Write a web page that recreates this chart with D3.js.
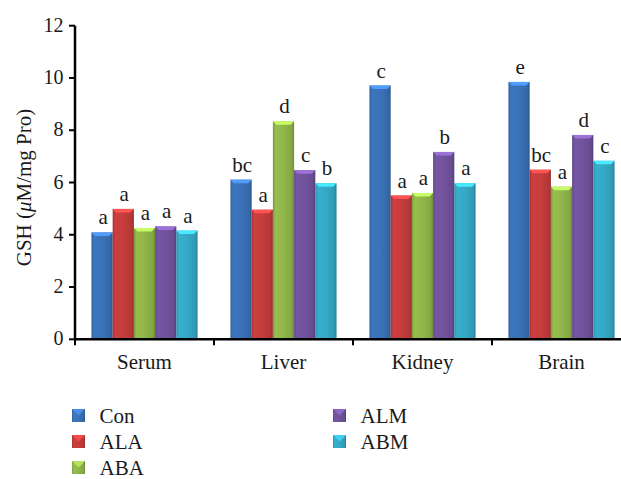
<!DOCTYPE html>
<html><head><meta charset="utf-8">
<script src="https://cdn.jsdelivr.net/npm/d3@7"></script>
<style>body{margin:0;background:#fff}svg{display:block}</style>
</head><body><svg id="c" width="621" height="479" font-family="'Liberation Serif', 'Times New Roman', 'DejaVu Serif', serif"></svg>
<script>
const categories = ["Serum","Liver","Kidney","Brain"];
const series = ["Con","ALA","ABA","ALM","ABM"];
const values = {
  Con: [4.09, 6.11, 9.71, 9.85],
  ALA: [4.99, 4.96, 5.50, 6.49],
  ABA: [4.26, 8.34, 5.60, 5.84],
  ALM: [4.32, 6.47, 7.17, 7.82],
  ABM: [4.16, 5.97, 5.97, 6.83]
};
const letters = {
  Con: ["a","bc","c","e"],
  ALA: ["a","a","a","bc"],
  ABA: ["a","d","a","a"],
  ALM: ["a","c","b","d"],
  ABM: ["a","b","a","c"]
};
const yTicks = [0,2,4,6,8,10,12];
const colors = ["#3b72b8","#c53d3c","#91b74a","#71539d","#35a9c6"];

const svg = d3.select("#c");
const x0 = d3.scaleBand().domain(categories).range([75, 631]).paddingInner(0).paddingOuter(0);
const x1 = d3.scaleBand().domain(series).range([0, x0.bandwidth()]).paddingInner(0).paddingOuter(0.775);
const y = d3.scaleLinear().domain([0, 12]).range([339.3, 25.7]);
const color = d3.scaleOrdinal().domain(series).range(colors);
const FS = 21, TFS = 20;
const ink = "#1a1a1a";

const defs = svg.append("defs");
series.forEach(s => {
  const c = d3.color(color(s));
  const g = defs.append("linearGradient").attr("id","g"+s).attr("x1","0").attr("x2","1").attr("y1","0").attr("y2","0");
  g.append("stop").attr("offset","0").attr("stop-color", c.darker(0.5));
  g.append("stop").attr("offset","0.12").attr("stop-color", c.brighter(0.1));
  g.append("stop").attr("offset","0.5").attr("stop-color", c);
  g.append("stop").attr("offset","0.88").attr("stop-color", c.darker(0.25));
  g.append("stop").attr("offset","1").attr("stop-color", c.darker(0.8));
});

const data = [];
categories.forEach((cat, i) => series.forEach(s => data.push({cat, s, v: values[s][i], l: letters[s][i]})));

const bars = svg.append("g");
data.forEach(d => {
  const bx = x0(d.cat) + x1(d.s), bw = x1.bandwidth(), by = y(d.v), bh = y(0) - y(d.v);
  bars.append("rect").attr("x", bx).attr("y", by).attr("width", bw).attr("height", bh)
    .attr("fill", "url(#g"+d.s+")");
  const c = d3.color(color(d.s));
  const cap = 3.5;
  bars.append("path")
    .attr("d", `M${bx},${by}L${bx+bw},${by}L${bx+bw-cap},${by+cap}L${bx+cap},${by+cap}Z`)
    .attr("fill", c.brighter(0.9));
  bars.append("text").attr("x", bx + bw/2 + 1).attr("y", by - 8).attr("text-anchor","middle")
    .attr("font-size", FS).attr("fill", ink).text(d.l);
});

// axes
const ax = svg.append("g");
ax.append("line").attr("x1", 75).attr("x2", 75).attr("y1", y(12)).attr("y2", y(0)+1).attr("stroke","#000").attr("stroke-width",2.5);
ax.append("line").attr("x1", 74).attr("x2", 631).attr("y1", y(0)).attr("y2", y(0)).attr("stroke","#000").attr("stroke-width",2.5);
yTicks.forEach(t => {
  ax.append("line").attr("x1", 69).attr("x2", 75).attr("y1", y(t)).attr("y2", y(t)).attr("stroke","#000").attr("stroke-width",2);
  ax.append("text").attr("x", 63.5).attr("y", y(t)).attr("dy","0.3em").attr("text-anchor","end").attr("font-size",TFS).attr("fill", ink).text(t);
});
categories.forEach((c, i) => {
  const bx = x0(c);
  ax.append("line").attr("x1", bx).attr("x2", bx).attr("y1", y(0)).attr("y2", y(0)+6).attr("stroke","#000").attr("stroke-width",2);
  ax.append("text").attr("x", bx + x0.bandwidth()/2).attr("y", 369).attr("text-anchor","middle").attr("font-size",FS).attr("fill", ink).text(c);
});
const yt = ax.append("text").attr("transform", `translate(31,${(y(0)+y(12))/2+5}) rotate(-90)`).attr("text-anchor","middle").attr("font-size",FS).attr("fill", ink);
yt.append("tspan").text("GSH (");
yt.append("tspan").attr("font-style","italic").text("μ");
yt.append("tspan").text("M/mg Pro)");

// legend
const lg = svg.append("g");
series.forEach((s, i) => {
  const col = i < 3 ? 0 : 1, row = i < 3 ? i : i - 3;
  const lx = col === 0 ? 72 : 333, ly = 415.5 + row * 26;
  const c = d3.color(color(s));
  lg.append("rect").attr("x", lx).attr("y", ly - 6.5).attr("width", 13).attr("height", 13).attr("fill", "url(#g"+s+")");
  lg.append("path").attr("d", `M${lx},${ly-6.5}L${lx+13},${ly-6.5}L${lx+6.5},${ly}Z`).attr("fill", c.brighter(0.6));
  lg.append("text").attr("x", lx + 27.5).attr("y", ly + 7.3).attr("font-size",FS).attr("fill", ink).text(s);
});
</script></body></html>
